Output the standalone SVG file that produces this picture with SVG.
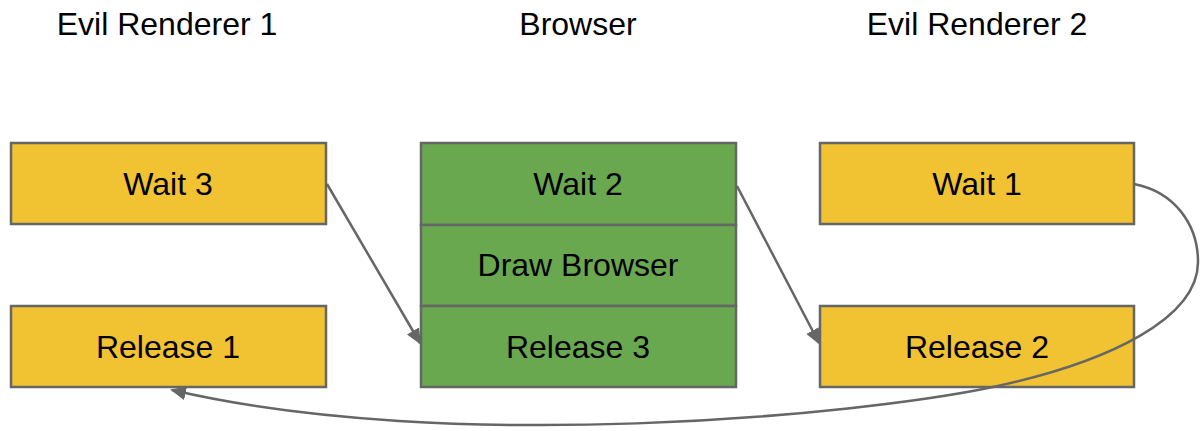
<svg xmlns="http://www.w3.org/2000/svg" width="1200" height="431" viewBox="0 0 1200 431">
  <style>
    .title { font-family: "Liberation Sans", Arial, sans-serif; font-size: 32px; fill: #000; text-anchor: middle; }
    .label { font-family: "Liberation Sans", Arial, sans-serif; font-size: 32px; fill: #000; text-anchor: middle; }
    .yellow { fill: #f1c232; stroke: #666666; stroke-width: 2.5; }
    .green { fill: #6aa84f; stroke: #666666; stroke-width: 2.5; }
    .conn { fill: none; stroke: #666666; stroke-width: 2.5; }
  </style>
  <defs>
    <marker id="arrow" markerUnits="userSpaceOnUse" markerWidth="16" markerHeight="14" refX="14" refY="7" orient="auto">
      <path d="M0,0 L16,7 L0,14 z" fill="#666666"/>
    </marker>
  </defs>
  <rect width="1200" height="431" fill="#ffffff"/>

  <g id="titles">
    <text class="title" x="167" y="35">Evil Renderer 1</text>
    <text class="title" x="578" y="35">Browser</text>
    <text class="title" x="977" y="35">Evil Renderer 2</text>
  </g>

  <g id="wait3">
    <rect class="yellow" x="11" y="143" width="315" height="81"/>
    <text class="label" x="168" y="195">Wait 3</text>
  </g>
  <g id="release1">
    <rect class="yellow" x="11" y="306" width="315" height="81"/>
    <text class="label" x="168" y="358">Release 1</text>
  </g>

  <g id="browser">
    <rect class="green" x="421" y="143" width="315" height="82"/>
    <text class="label" x="578" y="195">Wait 2</text>
    <rect class="green" x="421" y="225" width="315" height="81"/>
    <text class="label" x="578" y="276">Draw Browser</text>
    <rect class="green" x="421" y="306" width="315" height="81"/>
    <text class="label" x="578" y="358">Release 3</text>
  </g>

  <g id="wait1">
    <rect class="yellow" x="820" y="143" width="314" height="81"/>
    <text class="label" x="977" y="195">Wait 1</text>
  </g>
  <g id="release2">
    <rect class="yellow" x="820" y="306" width="314" height="81"/>
    <text class="label" x="977" y="358">Release 2</text>
  </g>

  <g id="connectors">
    <path class="conn" d="M327,184 L420,343" marker-end="url(#arrow)"/>
    <path class="conn" d="M737,186 L819,343" marker-end="url(#arrow)"/>
    <path class="conn" d="M1134,184 C1175,192 1198,225 1198,262 C1198,318 1110,362 993,387 C860,415 450,455 172,390" marker-end="url(#arrow)"/>
  </g>
</svg>
